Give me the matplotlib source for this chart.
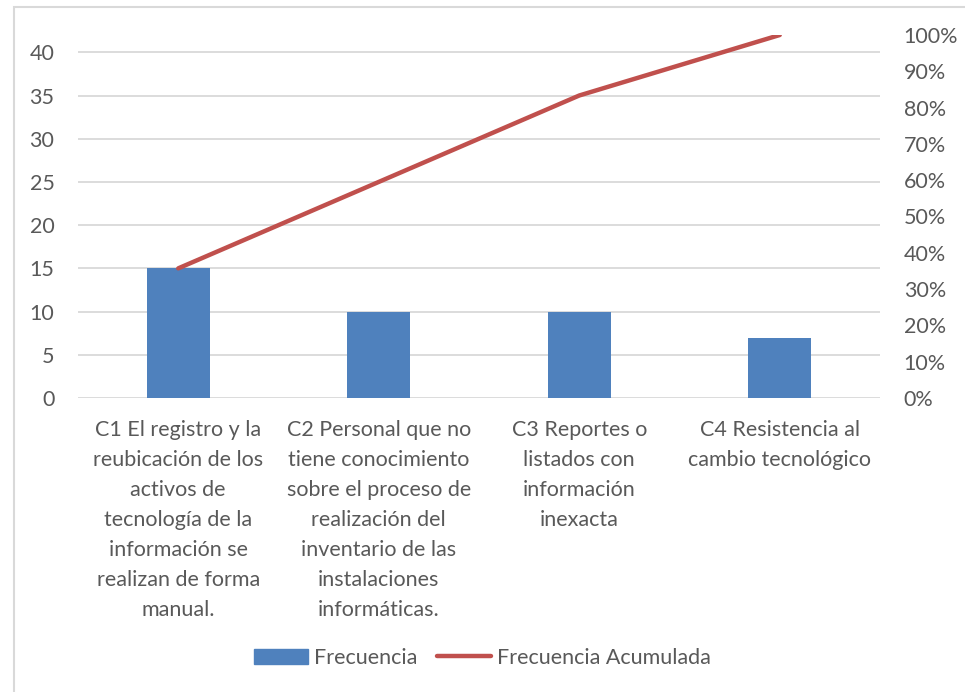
import matplotlib
matplotlib.use('Agg')
import matplotlib.pyplot as plt
from matplotlib.patches import Rectangle
from matplotlib.lines import Line2D
import numpy as np

plt.rcParams['font.family'] = ['Lato', 'DejaVu Sans']

categories = [
    "C1 El registro y la\nreubicación de los\nactivos de\ntecnología de la\ninformación se\nrealizan de forma\nmanual.",
    "C2 Personal que no\ntiene conocimiento\nsobre el proceso de\nrealización del\ninventario de las\ninstalaciones\ninformáticas.",
    "C3 Reportes o\nlistados con\ninformación\ninexacta",
    "C4 Resistencia al\ncambio tecnológico",
]
frecuencia = [15, 10, 10, 7]
left_ticks = [0, 5, 10, 15, 20, 25, 30, 35, 40]
right_ticks = [0, 0.1, 0.2, 0.3, 0.4, 0.5, 0.6, 0.7, 0.8, 0.9, 1.0]

total = sum(frecuencia)
acumulada = np.cumsum(frecuencia) / total

text_color = '#595959'
grid_color = '#d9d9d9'
bar_color = '#4f81bd'
line_color = '#c0504d'
fs = 15.5

W, H = 965, 692
fig = plt.figure(figsize=(W / 100, H / 100), dpi=100)

# chart border
fig.patches.append(Rectangle((13.5 / W, -0.05), 1.2, (H - 6.5) / H + 0.05,
                             transform=fig.transFigure, fill=False,
                             edgecolor='#d9d9d9', linewidth=1.5))

ax = fig.add_axes([78 / W, 1 - 398 / H, (880 - 78) / W, (398 - 35) / H])
x = np.arange(len(categories))
ax.bar(x, frecuencia, width=0.315, color=bar_color, zorder=2)
ax.set_xlim(-0.5, len(categories) - 0.5)
ax.set_ylim(0, total)
ax.set_yticks(left_ticks)
ax.set_xticks(x)
ax.set_xticklabels(categories, fontsize=fs, color=text_color, linespacing=1.62)
ax.tick_params(axis='x', length=0, pad=16)
ax.tick_params(axis='y', length=0, pad=17, labelsize=fs, labelcolor=text_color)
for t in left_ticks:
    ax.axhline(t, color=grid_color, linewidth=1.3, zorder=1)
for s in ax.spines.values():
    s.set_visible(False)

ax2 = ax.twinx()
ax2.plot(x, acumulada, color=line_color, linewidth=3.2, solid_capstyle='round', zorder=3)
ax2.set_ylim(0, 1)
ax2.set_yticks(right_ticks)
ax2.set_yticklabels([f"{int(round(v * 100))}%" for v in right_ticks])
ax2.tick_params(axis='y', length=0, pad=17, labelsize=fs, labelcolor=text_color)
for s in ax2.spines.values():
    s.set_visible(False)

handles = [Rectangle((0, 0), 1, 1, color=bar_color),
           Line2D([0], [0], color=line_color, linewidth=3.2, solid_capstyle='round')]
leg = fig.legend(handles, ['Frecuencia', 'Frecuencia Acumulada'], loc='center',
                 bbox_to_anchor=(0.5, 1 - 658 / H), ncol=2, frameon=False,
                 fontsize=fs, handlelength=2.5, handletextpad=0.28, columnspacing=0.95)
for t in leg.get_texts():
    t.set_color(text_color)

fig.savefig('out.png', dpi=100)
